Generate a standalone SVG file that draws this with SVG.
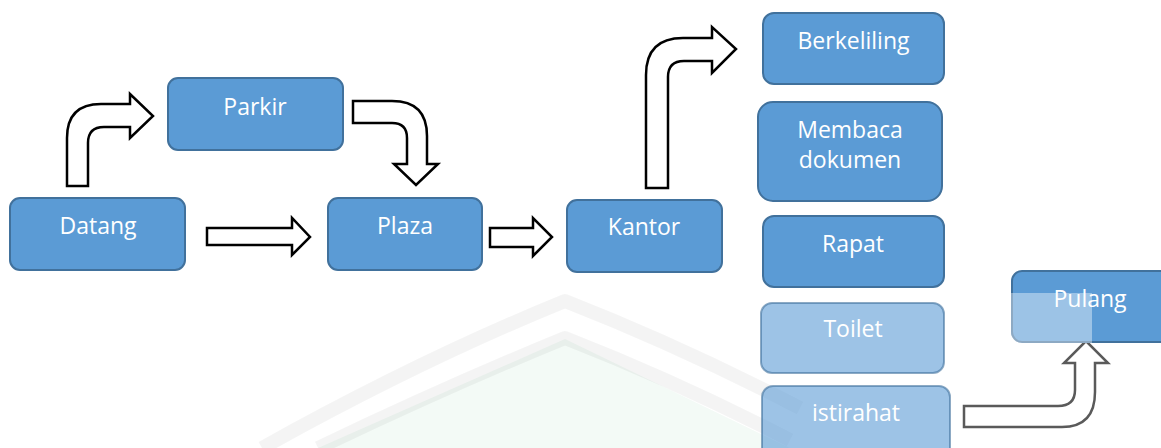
<svg xmlns="http://www.w3.org/2000/svg" width="1161" height="448" viewBox="0 0 1161 448">
<style>
.box{fill:#5b9bd5;stroke:#41719c;stroke-width:2}
.lite{fill:#5b9bd5;stroke:#41719c;stroke-width:2;fill-opacity:0.6;stroke-opacity:0.6}
.lbl{font-family:"Open Sans","DejaVu Sans",sans-serif;font-size:23px;fill:#ffffff;text-anchor:middle}
.arr{fill:#ffffff;stroke:#000000;stroke-width:2.5;stroke-linejoin:miter}
.wm{fill:none;stroke:#000000;stroke-opacity:0.045;stroke-width:14;stroke-linejoin:round}
</style>
<rect width="1161" height="448" fill="#ffffff"/>
<g id="watermark">
<path d="M318,448 L565,339 L790,448 Z" fill="#2ea86a" fill-opacity="0.06"/>
<path class="wm" d="M262,448 Q420,360 565,301 Q680,346 800,408"/>
<path class="wm" d="M318,448 Q450,385 565,338 Q680,383 790,440"/>
</g>
<g id="connectors">
<path class="arr" d="M67,186 V138 Q67,104 101,104 H130 V94 L153,116 L130,138 V127 H104 Q88,127 88,143 V186 Z"/>
<path class="arr" d="M353,101 H392 Q427,101 427,136 V164 H438 L416,185 L394,164 H407 V138 Q407,123 392,123 H353 Z"/>
<path class="arr" d="M207,228 H292 V218 L310,237 L292,255 V245 H207 Z"/>
<path class="arr" d="M490,228 H533 V218 L552,237 L533,256 V247 H490 Z"/>
<path class="arr" d="M646,188 V75 Q646,38 683,38 H712 V27 L736,49 L712,73 V61 H684 Q668,61 668,77 V188 Z"/>
<path class="arr" style="stroke:#5a5a5a" d="M964,406 H1058 Q1075,406 1075,390 V363 H1064 L1086,341 L1108,363 H1095 V392 Q1095,427 1062,427 H964 Z"/>
</g>
<g id="datang"><rect class="box" x="10" y="198" width="175" height="72" rx="10"/><text class="lbl" x="98" y="234">Datang</text></g>
<g id="parkir"><rect class="box" x="168" y="78" width="175" height="72" rx="10"/><text class="lbl" x="255" y="115">Parkir</text></g>
<g id="plaza"><rect class="box" x="328" y="198" width="154" height="72" rx="10"/><text class="lbl" x="405" y="234">Plaza</text></g>
<g id="kantor"><rect class="box" x="567" y="200" width="155" height="72" rx="10"/><text class="lbl" x="644" y="235">Kantor</text></g>
<g id="berkeliling"><rect class="box" x="763" y="13" width="181" height="71" rx="11"/><text class="lbl" x="853.5" y="49">Berkeliling</text></g>
<g id="membaca"><rect class="box" x="758" y="102" width="184" height="99" rx="15"/><text class="lbl" x="850" y="138">Membaca</text><text class="lbl" x="850" y="168">dokumen</text></g>
<g id="rapat"><rect class="box" x="763" y="216" width="181" height="71" rx="11"/><text class="lbl" x="853" y="252">Rapat</text></g>
<g id="toilet"><rect class="lite" x="761" y="303" width="183" height="70" rx="11"/><text class="lbl" x="853" y="337">Toilet</text></g>
<g id="istirahat"><rect class="lite" x="762" y="386" width="188" height="80" rx="11"/><text class="lbl" x="856" y="421">istirahat</text></g>
<g id="pulang"><rect class="box" x="1012" y="271" width="160" height="71" rx="10"/><path d="M1011,293 H1092 V343 H1021 A10,10 0 0 1 1011,333 Z" fill="#ffffff" fill-opacity="0.4"/><text class="lbl" x="1090" y="307">Pulang</text></g>
</svg>
